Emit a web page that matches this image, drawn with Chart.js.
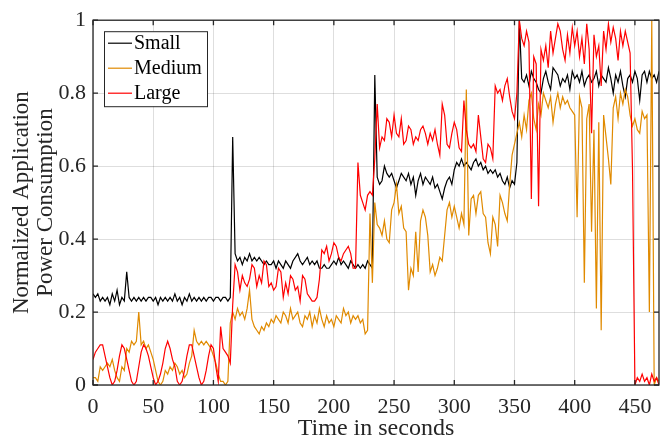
<!DOCTYPE html>
<html>
<head>
<meta charset="utf-8">
<script src="https://cdn.jsdelivr.net/npm/chart.js@4.4.0/dist/chart.umd.min.js"></script>
<style>
  html, body { margin: 0; padding: 0; background: #fff; }
</style>
</head>
<body>
<canvas id="power" width="665" height="441"></canvas>
<script>
Chart.defaults.font.family = "'Liberation Serif', 'Times New Roman', serif";
Chart.defaults.color = '#262626';

const SAMPLE_STEP = 2; // seconds between samples
const X_TICKS = [0, 50, 100, 150, 200, 250, 300, 350, 400, 450];
const Y_TICKS = [0, 0.2, 0.4, 0.6, 0.8, 1];

// normalized power, one sample every 2 s from t = 0 to t = 470
const small = [
  0.25, 0.24, 0.25, 0.23, 0.24, 0.23, 0.24, 0.22, 0.25, 0.23,
  0.26, 0.22, 0.24, 0.23, 0.31, 0.24, 0.23, 0.24, 0.23, 0.24,
  0.23, 0.24, 0.23, 0.24, 0.24, 0.23, 0.24, 0.22, 0.24, 0.23,
  0.24, 0.23, 0.24, 0.23, 0.25, 0.23, 0.24, 0.22, 0.24, 0.23,
  0.25, 0.23, 0.24, 0.23, 0.24, 0.23, 0.24, 0.23, 0.24, 0.24,
  0.23, 0.24, 0.24, 0.23, 0.24, 0.24, 0.23, 0.24, 0.68, 0.36,
  0.34, 0.35, 0.33, 0.35, 0.34, 0.36, 0.34, 0.35, 0.34, 0.35,
  0.34, 0.33, 0.34, 0.33, 0.33, 0.34, 0.32, 0.34, 0.33, 0.32,
  0.34, 0.33, 0.32, 0.34, 0.35, 0.36, 0.34, 0.33, 0.34, 0.35,
  0.33, 0.34, 0.33, 0.34, 0.32, 0.32, 0.33, 0.32, 0.32, 0.33,
  0.34, 0.33, 0.35, 0.33, 0.34, 0.33, 0.32, 0.34, 0.33, 0.32,
  0.33, 0.32, 0.33, 0.32, 0.34, 0.33, 0.32, 0.85, 0.57, 0.55,
  0.56, 0.60, 0.58, 0.57, 0.58, 0.56, 0.54, 0.56, 0.58, 0.57,
  0.56, 0.58, 0.55, 0.57, 0.52, 0.56, 0.58, 0.55, 0.57, 0.56,
  0.55, 0.57, 0.54, 0.55, 0.53, 0.51, 0.54, 0.56, 0.57, 0.55,
  0.59, 0.61, 0.60, 0.62, 0.60, 0.61, 0.60, 0.59, 0.61, 0.62,
  0.60, 0.61, 0.59, 0.60, 0.58, 0.59, 0.58, 0.59, 0.57, 0.58,
  0.56, 0.55, 0.57, 0.54, 0.56, 0.55, 0.61, 1.00, 0.84, 0.83,
  0.85, 0.82, 0.86, 0.84, 0.83, 0.81, 0.80, 0.84, 0.86, 0.83,
  0.81, 0.87, 0.86, 0.85, 0.82, 0.84, 0.83, 0.85, 0.81, 0.86,
  0.84, 0.85, 0.83, 0.86, 0.82, 0.84, 0.85, 0.83, 0.84, 0.86,
  0.82, 0.85, 0.84, 0.83, 0.87, 0.84, 0.80, 0.85, 0.83, 0.86,
  0.82, 0.79, 0.84, 0.85, 0.83, 0.86, 0.84, 0.78, 0.85, 0.86,
  0.83, 0.86, 0.84, 0.85, 0.83, 0.86
];

const medium = [
  0.02, 0.02, 0.01, 0.05, 0.04, 0.05, 0.06, 0.05, 0.07, 0.04,
  0.02, 0.01, 0.05, 0.04, 0.10, 0.09, 0.12, 0.11, 0.12, 0.20,
  0.11, 0.12, 0.10, 0.11, 0.09, 0.07, 0.04, 0.01, 0.00, 0.01,
  0.04, 0.03, 0.05, 0.04, 0.06, 0.05, 0.03, 0.04, 0.02, 0.03,
  0.06, 0.08, 0.15, 0.12, 0.11, 0.12, 0.11, 0.12, 0.11, 0.10,
  0.08, 0.06, 0.03, 0.01, 0.01, 0.00, 0.01, 0.17, 0.20, 0.18,
  0.21, 0.19, 0.20, 0.18, 0.21, 0.26, 0.18, 0.16, 0.15, 0.14,
  0.16, 0.15, 0.17, 0.16, 0.18, 0.17, 0.19, 0.18, 0.17, 0.20,
  0.19, 0.17, 0.21, 0.18, 0.19, 0.20, 0.17, 0.16, 0.19, 0.18,
  0.20, 0.16, 0.19, 0.17, 0.21, 0.18, 0.16, 0.19, 0.17, 0.18,
  0.16, 0.19, 0.18, 0.17, 0.21, 0.19, 0.20, 0.17, 0.19, 0.18,
  0.19, 0.17, 0.18, 0.14, 0.15, 0.47, 0.28, 0.50, 0.44, 0.43,
  0.41, 0.45, 0.40, 0.39, 0.48, 0.50, 0.55, 0.47, 0.49, 0.43,
  0.42, 0.26, 0.32, 0.30, 0.42, 0.31, 0.45, 0.48, 0.46, 0.41,
  0.31, 0.33, 0.30, 0.32, 0.35, 0.34, 0.41, 0.48, 0.50, 0.46,
  0.49, 0.46, 0.43, 0.47, 0.44, 0.81, 0.41, 0.51, 0.52, 0.47,
  0.52, 0.53, 0.47, 0.46, 0.39, 0.36, 0.46, 0.44, 0.38, 0.52,
  0.50, 0.47, 0.45, 0.55, 0.63, 0.66, 0.69, 0.72, 0.68, 0.74,
  0.70, 0.78, 0.80, 0.73, 0.70, 0.77, 0.74, 0.80, 0.78, 0.76,
  0.79, 0.72, 0.77, 0.80, 0.76, 0.79, 0.77, 0.78, 0.76, 0.75,
  0.74, 0.46, 0.79, 0.76, 0.28, 0.73, 0.77, 0.42, 0.70, 0.21,
  0.72, 0.15, 0.74, 0.68, 0.62, 0.55, 0.76, 0.79, 0.73, 0.80,
  0.77, 0.81, 0.79, 0.74, 0.71, 0.73, 0.70, 0.69, 0.75, 0.73,
  0.74, 0.20, 1.00, 0.00, 0.02, 0.01
];

const large = [
  0.07, 0.09, 0.10, 0.11, 0.11, 0.08, 0.05, 0.02, 0.00, 0.01,
  0.04, 0.08, 0.11, 0.10, 0.07, 0.04, 0.01, 0.00, 0.01, 0.05,
  0.09, 0.11, 0.10, 0.08, 0.05, 0.02, 0.00, 0.01, 0.03, 0.06,
  0.10, 0.12, 0.10, 0.07, 0.05, 0.01, 0.00, 0.01, 0.04, 0.08,
  0.11, 0.11, 0.08, 0.05, 0.02, 0.00, 0.01, 0.04, 0.08, 0.11,
  0.10, 0.05, 0.01, 0.16, 0.10, 0.09, 0.08, 0.06, 0.22, 0.33,
  0.31, 0.26, 0.30, 0.28, 0.27, 0.29, 0.33, 0.32, 0.27, 0.30,
  0.28, 0.34, 0.33, 0.27, 0.28, 0.26, 0.27, 0.32, 0.31, 0.24,
  0.28, 0.25, 0.30, 0.29, 0.26, 0.27, 0.23, 0.30, 0.29, 0.25,
  0.24, 0.23, 0.23, 0.24, 0.29, 0.37, 0.36, 0.38, 0.34, 0.36,
  0.39, 0.38, 0.35, 0.34, 0.36, 0.37, 0.38, 0.36, 0.32, 0.32,
  0.61, 0.52, 0.50, 0.48, 0.52, 0.53, 0.52, 0.62, 0.77, 0.65,
  0.68, 0.67, 0.73, 0.72, 0.68, 0.74, 0.69, 0.68, 0.73, 0.66,
  0.67, 0.71, 0.70, 0.66, 0.68, 0.67, 0.70, 0.71, 0.69, 0.66,
  0.69, 0.67, 0.70, 0.66, 0.63, 0.77, 0.74, 0.66, 0.65, 0.69,
  0.72, 0.70, 0.65, 0.64, 0.78, 0.70, 0.66, 0.65, 0.66, 0.64,
  0.74, 0.68, 0.62, 0.61, 0.66, 0.65, 0.62, 0.82, 0.80, 0.81,
  0.78, 0.82, 0.84, 0.79, 0.75, 0.73, 0.80, 1.00, 0.95, 0.93,
  0.97, 0.94, 0.51, 0.90, 0.88, 0.49, 0.92, 0.89, 0.93, 0.87,
  0.97, 0.91, 0.95, 0.99, 0.97, 0.92, 0.89, 0.96, 0.91, 0.98,
  0.93, 0.97, 0.90, 0.95, 0.88, 0.99, 0.92, 0.69, 0.96, 0.90,
  0.93, 0.82, 0.97, 0.92, 0.99, 0.94, 0.98, 0.95, 0.89, 0.97,
  0.93, 0.97, 0.94, 0.91, 0.59, 0.00, 0.02, 0.01, 0.03, 0.01,
  0.02, 0.00, 0.03, 0.01, 0.02, 0.00
];

const COLORS = {
  small: '#000000',
  medium: '#e08a00',
  large: '#ff0000',
  grid: 'rgba(0,0,0,0.13)',
  frame: '#262626',
};

function toPoints(values) {
  return values.map((v, i) => ({ x: i * SAMPLE_STEP, y: v }));
}

function series(label, values, color, order) {
  return {
    label,
    data: toPoints(values),
    borderColor: color,
    backgroundColor: color,
    borderWidth: 1.2,
    pointRadius: 0,
    tension: 0,
    fill: false,
    order,
  };
}

// box round the plot with inward ticks, matlab style
const framePlugin = {
  id: 'frame',
  afterDatasetsDraw(chart) {
    const { ctx, chartArea: a, scales } = chart;
    ctx.save();
    ctx.strokeStyle = COLORS.frame;
    ctx.lineWidth = 1.3;
    ctx.beginPath();
    X_TICKS.forEach(v => {
      const px = scales.x.getPixelForValue(v);
      ctx.moveTo(px, a.bottom); ctx.lineTo(px, a.bottom - 5);
      ctx.moveTo(px, a.top); ctx.lineTo(px, a.top + 5);
    });
    Y_TICKS.forEach(v => {
      const py = scales.y.getPixelForValue(v);
      ctx.moveTo(a.left, py); ctx.lineTo(a.left + 5, py);
      ctx.moveTo(a.right, py); ctx.lineTo(a.right - 5, py);
    });
    ctx.stroke();
    ctx.strokeRect(a.left, a.top, a.right - a.left, a.bottom - a.top);
    ctx.restore();
  }
};

// legend box inside the plot, top left
const legendBox = {
  id: 'legendBox',
  afterDraw(chart) {
    const { ctx, chartArea: a } = chart;
    const x = a.left + 11, y = a.top + 11, w = 103, h = 75;
    ctx.save();
    ctx.fillStyle = '#fff';
    ctx.fillRect(x, y, w, h);
    ctx.strokeStyle = COLORS.frame;
    ctx.lineWidth = 1;
    ctx.strokeRect(x + 0.5, y + 0.5, w, h);
    ctx.font = "20px 'Liberation Serif'";
    ctx.textBaseline = 'middle';
    chart.data.datasets.forEach((ds, i) => {
      const rowY = y + 12 + i * 25;
      ctx.strokeStyle = ds.borderColor;
      ctx.lineWidth = 1.2;
      ctx.beginPath();
      ctx.moveTo(x + 4, rowY);
      ctx.lineTo(x + 28, rowY);
      ctx.stroke();
      ctx.fillStyle = '#000';
      ctx.fillText(ds.label, x + 30, rowY + 1);
    });
    ctx.restore();
  }
};

new Chart(document.getElementById('power').getContext('2d'), {
  type: 'line',
  data: {
    datasets: [
      series('Small', small, COLORS.small, 2),
      series('Medium', medium, COLORS.medium, 1),
      series('Large', large, COLORS.large, 0),
    ]
  },
  options: {
    responsive: false,
    animation: false,
    layout: { padding: { top: 15, right: 6, left: 0, bottom: 0 } },
    plugins: {
      legend: { display: false },
      tooltip: { enabled: false },
    },
    scales: {
      x: {
        type: 'linear',
        min: 0,
        max: 470,
        border: { display: false },
        grid: { color: COLORS.grid, drawTicks: false },
        afterBuildTicks: s => { s.ticks = X_TICKS.map(v => ({ value: v })); },
        ticks: {
          autoSkip: false,
          maxRotation: 0,
          padding: 9,
          font: { size: 22 },
          callback: v => String(v),
        },
        title: {
          display: true,
          text: 'Time in seconds',
          font: { size: 24, lineHeight: 1.0 },
          padding: { top: 0, bottom: 0 },
        },
        afterFit: s => { s.height = 56; },
      },
      y: {
        min: 0,
        max: 1,
        border: { display: false },
        grid: { color: COLORS.grid, drawTicks: false },
        afterBuildTicks: s => { s.ticks = Y_TICKS.map(v => ({ value: v })); },
        ticks: {
          padding: 7,
          font: { size: 22 },
          callback: v => String(+v.toFixed(1)),
        },
        title: {
          display: true,
          text: ['Normalized Application', 'Power Consumption'],
          font: { size: 23, lineHeight: 1.05 },
          padding: { top: 10, bottom: 0 },
        },
        afterFit: s => { s.width = 93; },
      }
    }
  },
  plugins: [framePlugin, legendBox],
});
</script>
</body>
</html>
